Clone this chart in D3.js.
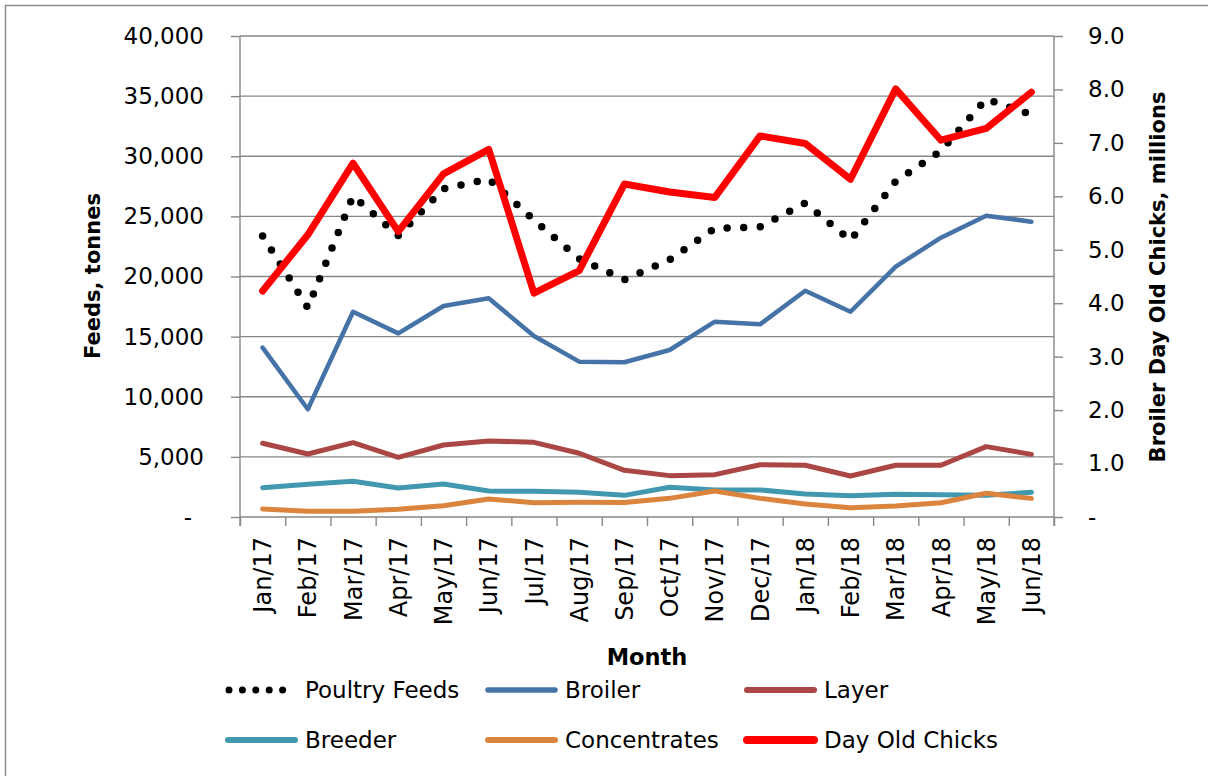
<!DOCTYPE html>
<html>
<head>
<meta charset="utf-8">
<script src="https://cdn.jsdelivr.net/npm/d3@7"></script>
<style>
body{margin:0;background:#fff;}
text{font-family:"DejaVu Sans",sans-serif;fill:#000;}
</style>
</head>
<body>
<svg id="chart" width="1208" height="776"></svg>
<script>
// data
var months = ["Jan/17","Feb/17","Mar/17","Apr/17","May/17","Jun/17","Jul/17","Aug/17","Sep/17",
              "Oct/17","Nov/17","Dec/17","Jan/18","Feb/18","Mar/18","Apr/18","May/18","Jun/18"];
var poultryFeeds = [23370,17400,26700,23400,27290,28100,24700,21480,19740,21400,24000,24130,26110,23010,27920,30440,34760,33460];
var broiler      = [14080,8960,17070,15270,17550,18190,15050,12920,12870,13890,16240,16020,18820,17070,20820,23230,25060,24560];
var layer        = [6130,5240,6180,4960,5990,6320,6210,5300,3880,3440,3520,4350,4300,3410,4300,4300,5850,5210];
var breeder      = [2440,2720,2970,2410,2740,2160,2140,2050,1800,2470,2250,2250,1910,1770,1890,1850,1800,2050];
var concentrates = [665,470,470,640,940,1500,1190,1220,1200,1550,2160,1550,1080,770,910,1190,1970,1550];
var dayOldChicks = [4.23,5.28,6.62,5.34,6.42,6.88,4.19,4.61,6.23,6.08,5.98,7.13,6.99,6.32,8.01,7.05,7.27,7.95]; // millions, right axis
var leftTicks  = [0,5000,10000,15000,20000,25000,30000,35000,40000];
var rightTicks = [0,1,2,3,4,5,6,7,8,9];

var svg = d3.select("#chart");
var plotL = 240, plotR = 1054, plotT = 36, plotB = 517;
var tickLen = 9;
var gridColor = "#878787";

var x = d3.scaleBand().domain(months).range([plotL, plotR]);
var xEdge = d3.scaleLinear().domain([0, months.length]).range([plotL, plotR]);
var yL = d3.scaleLinear().domain([0, 40000]).range([plotB, plotT]);
var yR = d3.scaleLinear().domain([0, 9]).range([plotB, plotT]);

function cx(d, i){ return x(months[i]) + x.bandwidth()/2; }

// outer frame (only top/left visible in the crop)
svg.append("rect")
	.attr("x", 5.5).attr("y", 5.5)
	.attr("width", 1220).attr("height", 790)
	.attr("fill", "none")
	.attr("stroke", "#8c8c8c")
	.attr("stroke-width", 1.5);

// horizontal gridlines
svg.append("g").selectAll("line")
	.data(leftTicks)
	.enter().append("line")
	.attr("x1", plotL).attr("x2", plotR)
	.attr("y1", function(d){ return yL(d); })
	.attr("y2", function(d){ return yL(d); })
	.attr("stroke", gridColor)
	.attr("stroke-width", 1.4);

function styleAxis(g){
	g.select(".domain").remove();
	g.selectAll(".tick line").attr("stroke", gridColor).attr("stroke-width", 1.4);
	g.selectAll("text").style("font-family", "DejaVu Sans").style("font-size", "23px").attr("fill", "#000");
}

// left axis
var leftAxis = svg.append("g")
	.attr("transform", "translate(" + plotL + ",0)")
	.call(d3.axisLeft(yL).tickValues(leftTicks).tickSize(tickLen).tickPadding(27)
		.tickFormat(function(d){ return d === 0 ? "-\u00a0\u2009" : d3.format(",")(d); }))
	.call(styleAxis);

// right axis
var rightAxis = svg.append("g")
	.attr("transform", "translate(" + plotR + ",0)")
	.call(d3.axisRight(yR).tickValues(rightTicks).tickSize(tickLen).tickPadding(25)
		.tickFormat(function(d){ return d === 0 ? "-" : d3.format(".1f")(d); }))
	.call(styleAxis);

// bottom axis: ticks between categories
svg.append("g")
	.attr("transform", "translate(0," + plotB + ")")
	.call(d3.axisBottom(xEdge).tickValues(d3.range(0, months.length + 1)).tickSize(tickLen).tickFormat(""))
	.call(styleAxis);

// month labels, rotated
svg.append("g")
	.attr("transform", "translate(0," + plotB + ")")
	.call(d3.axisBottom(x).tickSize(0))
	.call(styleAxis)
	.selectAll("text")
	.attr("transform", "rotate(-90)")
	.attr("x", -20).attr("y", 0)
	.attr("dy", "0.36em")
	.attr("text-anchor", "end")
	.style("font-size", "24px");

// axis lines
svg.append("line")
	.attr("x1", plotL).attr("x2", plotL)
	.attr("y1", plotT).attr("y2", plotB + tickLen)
	.attr("stroke", gridColor).attr("stroke-width", 1.4);
svg.append("line")
	.attr("x1", plotR).attr("x2", plotR)
	.attr("y1", plotT).attr("y2", plotB + tickLen)
	.attr("stroke", gridColor).attr("stroke-width", 1.4);

// series
var lineL = d3.line().x(cx).y(function(d){ return yL(d); });
var lineR = d3.line().x(cx).y(function(d){ return yR(d); });

var series = [
	{name:"Poultry Feeds", values:poultryFeeds, line:lineL, color:"#000000", width:7.5, dash:"0 16.6"},
	{name:"Broiler",       values:broiler,      line:lineL, color:"#4572A7", width:4.5},
	{name:"Layer",         values:layer,        line:lineL, color:"#AA4643", width:5},
	{name:"Breeder",       values:breeder,      line:lineL, color:"#4198AF", width:5},
	{name:"Concentrates",  values:concentrates, line:lineL, color:"#DB843D", width:5},
	{name:"Day Old Chicks",values:dayOldChicks, line:lineR, color:"#FF0000", width:7}
];

series.forEach(function(s){
	svg.append("path")
		.datum(s.values)
		.attr("d", s.line)
		.attr("fill", "none")
		.attr("stroke", s.color)
		.attr("stroke-width", s.width)
		.attr("stroke-linejoin", "round")
		.attr("stroke-linecap", "round")
		.attr("stroke-dasharray", s.dash || null);
});

// axis titles
svg.append("text")
	.attr("transform", "translate(93,276) rotate(-90)")
	.attr("text-anchor", "middle")
	.attr("dominant-baseline", "central")
	.style("font-size", "21px").style("font-weight", "bold")
	.text("Feeds, tonnes");

svg.append("text")
	.attr("transform", "translate(1158,277) rotate(-90)")
	.attr("text-anchor", "middle")
	.attr("dominant-baseline", "central")
	.style("font-size", "21px").style("font-weight", "bold")
	.text("Broiler Day Old Chicks, millions");

svg.append("text")
	.attr("x", 647).attr("y", 665)
	.attr("text-anchor", "middle")
	.style("font-size", "22.5px").style("font-weight", "bold")
	.text("Month");

// legend, 3 columns x 2 rows
var legCols = [228, 488, 747];
var legRows = [690, 740];
var legend = svg.append("g").selectAll("g")
	.data(series)
	.enter().append("g")
	.attr("transform", function(d, i){
		return "translate(" + legCols[i % 3] + "," + legRows[Math.floor(i / 3)] + ")";
	});

legend.append("line")
	.attr("x1", function(d){ return d.dash ? 1 : 0; })
	.attr("x2", 67)
	.attr("stroke", function(d){ return d.color; })
	.attr("stroke-width", function(d){ return d.dash ? 7 : d.width + 1; })
	.attr("stroke-linecap", "round")
	.attr("stroke-dasharray", function(d){ return d.dash ? "0 13.4" : null; });

legend.append("text")
	.attr("x", 77)
	.attr("dy", "0.36em")
	.style("font-size", "23px")
	.text(function(d){ return d.name; });
</script>
</body>
</html>
